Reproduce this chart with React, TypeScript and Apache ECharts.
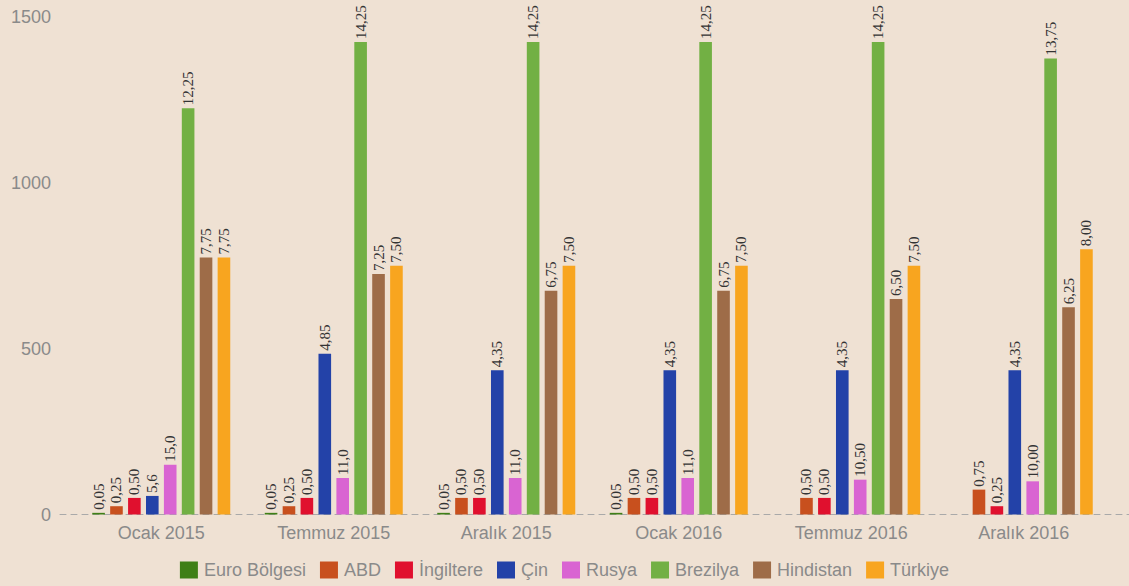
import React, { useEffect, useRef } from "react";
import * as echarts from "echarts";

const categories = ["Ocak 2015", "Temmuz 2015", "Aralık 2015", "Ocak 2016", "Temmuz 2016", "Aralık 2016"];
const seriesNames = ["Euro Bölgesi", "ABD", "İngiltere", "Çin", "Rusya", "Brezilya", "Hindistan", "Türkiye"];
const seriesColors = ["#3f7f16", "#c8501e", "#e0102e", "#2342a8", "#d964d2", "#72b044", "#9e6c48", "#f8a51f"];

// bar heights as drawn on the axis
const euroValues = [5, 5, 5, 5, null, null];
const abdValues = [25, 25, 50, 50, 50, 75];
const ingiltereValues = [50, 50, 50, 50, 50, 25];
const cinValues = [56, 485, 435, 435, 435, 435];
const rusyaValues = [150, 110, 110, 110, 105, 100];
const brezilyaValues = [1225, 1425, 1425, 1425, 1425, 1375];
const hindistanValues = [775, 725, 675, 675, 650, 625];
const turkiyeValues = [775, 750, 750, 750, 750, 800];

// value labels as printed above the bars
const euroLabels = ["0,05", "0,05", "0,05", "0,05", "", ""];
const abdLabels = ["0,25", "0,25", "0,50", "0,50", "0,50", "0,75"];
const ingiltereLabels = ["0,50", "0,50", "0,50", "0,50", "0,50", "0,25"];
const cinLabels = ["5,6", "4,85", "4,35", "4,35", "4,35", "4,35"];
const rusyaLabels = ["15,0", "11,0", "11,0", "11,0", "10,50", "10,00"];
const brezilyaLabels = ["12,25", "14,25", "14,25", "14,25", "14,25", "13,75"];
const hindistanLabels = ["7,75", "7,25", "6,75", "6,75", "6,50", "6,25"];
const turkiyeLabels = ["7,75", "7,50", "7,50", "7,50", "7,50", "8,00"];

const yTicks = [0, 500, 1000, 1500];

const allValues = [euroValues, abdValues, ingiltereValues, cinValues, rusyaValues, brezilyaValues, hindistanValues, turkiyeValues];
const allLabels = [euroLabels, abdLabels, ingiltereLabels, cinLabels, rusyaLabels, brezilyaLabels, hindistanLabels, turkiyeLabels];

export default function App() {
  const ref = useRef<HTMLDivElement>(null);
  useEffect(() => {
    document.body.style.margin = "0";
    const chart = echarts.init(ref.current!, null, { renderer: "svg" });
    const gridTop = 17;
    const gridBottom = 71.5;
    chart.setOption({
      animation: false,
      backgroundColor: "#efe1d3",
      grid: [
        { left: 75, right: 19, top: gridTop, bottom: gridBottom },
        { left: 60, right: 0, top: gridTop, bottom: gridBottom },
      ],
      legend: {
        data: seriesNames,
        bottom: 2,
        left: "center",
        itemWidth: 18,
        itemHeight: 17,
        itemGap: 14,
        icon: "rect",
        textStyle: { fontFamily: "Liberation Sans, Arial, sans-serif", fontSize: 18, color: "#8a8a8a", padding: [0, 0, 0, 1] },
      },
      xAxis: [
        {
          type: "category",
          data: categories,
          gridIndex: 0,
          axisLine: { show: false },
          axisTick: { show: false },
          axisLabel: { fontFamily: "Liberation Sans, Arial, sans-serif", fontSize: 18, color: "#8a8a8a", margin: 9 },
        },
        {
          type: "value",
          gridIndex: 1,
          min: 0,
          max: 1,
          axisLine: { show: true, lineStyle: { color: "#a9a9a9", type: [6, 5], width: 1 } },
          axisTick: { show: false },
          axisLabel: { show: false },
          splitLine: { show: false },
        },
      ],
      yAxis: [
        {
          type: "value",
          gridIndex: 0,
          min: 0,
          max: 1500,
          interval: 500,
          axisLine: { show: false },
          axisTick: { show: false },
          splitLine: { show: false },
          axisLabel: {
            fontFamily: "Liberation Sans, Arial, sans-serif",
            fontSize: 18,
            color: "#8a8a8a",
            margin: 24,
            formatter: (v: number) => (yTicks.includes(v) ? String(v) : ""),
          },
        },
        { type: "value", gridIndex: 1, min: 0, max: 1500, show: false },
      ],
      series: seriesNames.map((name, i) => ({
        name,
        type: "bar",
        xAxisIndex: 0,
        yAxisIndex: 0,
        data: allValues[i].map((v) => (v === null ? "-" : v)),
        itemStyle: { color: seriesColors[i] },
        barGap: "42%",
        barCategoryGap: "20%",
        label: {
          show: true,
          position: "top",
          rotate: 90,
          align: "left",
          verticalAlign: "middle",
          distance: 3,
          fontFamily: "Liberation Serif, serif",
          fontSize: 15,
          color: "#333333",
          formatter: (p: any) => allLabels[i][p.dataIndex],
        },
      })),
    });
    return () => chart.dispose();
  }, []);
  return <div ref={ref} style={{ width: 1129, height: 586 }} />;
}
